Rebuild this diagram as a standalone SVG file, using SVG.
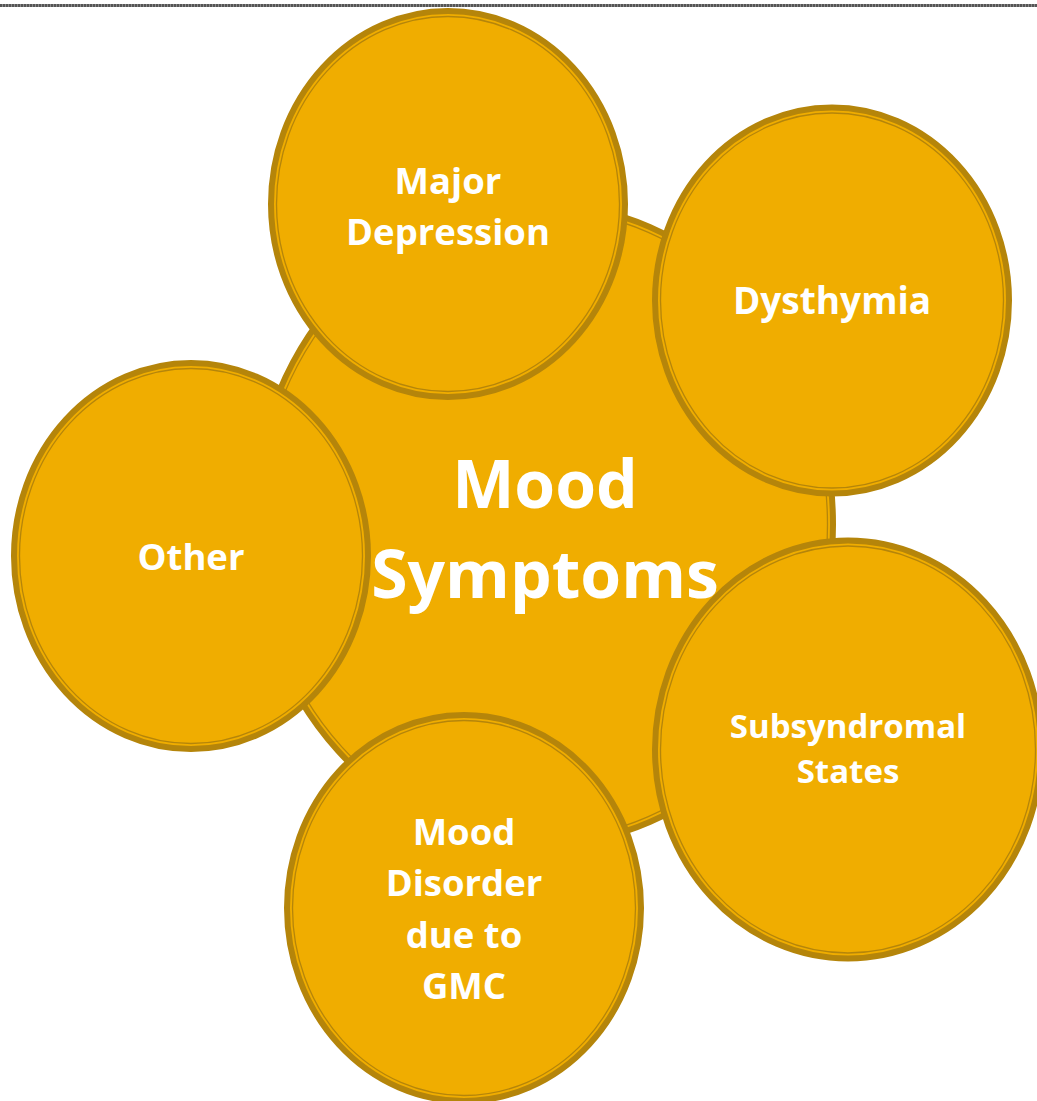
<svg xmlns="http://www.w3.org/2000/svg" width="1037" height="1101" viewBox="0 0 1037 1101">
  <style>
    .disc { fill: #F0AD00; stroke: #B5850A; stroke-width: 6; }
    .rim { fill: none; stroke: #B5850A; stroke-width: 1.3; }
    .lbl { font-family: "Open Sans", "Lato", "Liberation Sans", sans-serif; font-weight: 700; fill: #FFFFFF; text-anchor: middle; }
  </style>
  <rect x="0" y="0" width="1037" height="1101" fill="#FFFFFF"/>
  <!-- page rule along the top: a grey band with a fine speckle -->
  <line x1="0" y1="5.5" x2="1037" y2="5.5" stroke="#8A8A8A" stroke-width="3"/>
  <line x1="0" y1="5.5" x2="1037" y2="5.5" stroke="#555555" stroke-width="3" stroke-dasharray="2 1"/>

  <!-- central hub -->
  <g id="hub">
    <ellipse class="disc" cx="543" cy="524.5" rx="290" ry="320"/>
    <ellipse class="rim" cx="543" cy="524.5" rx="284.5" ry="314.5"/>
    <text class="lbl" x="545" y="508" font-size="66">Mood</text>
    <text class="lbl" x="545" y="598" font-size="66">Symptoms</text>
  </g>

  <g id="major-depression">
    <ellipse class="disc" cx="448" cy="204" rx="177" ry="193"/>
    <ellipse class="rim" cx="448" cy="204" rx="171.5" ry="187.5"/>
    <text class="lbl" x="448" y="194" font-size="36.5">Major</text>
    <text class="lbl" x="448" y="245" font-size="36.5">Depression</text>
  </g>

  <g id="dysthymia">
    <ellipse class="disc" cx="832" cy="300.5" rx="177" ry="193"/>
    <ellipse class="rim" cx="832" cy="300.5" rx="171.5" ry="187.5"/>
    <text class="lbl" x="832" y="314" font-size="37">Dysthymia</text>
  </g>

  <g id="subsyndromal-states">
    <ellipse class="disc" cx="848" cy="749.5" rx="193" ry="209"/>
    <ellipse class="rim" cx="848" cy="749.5" rx="187.5" ry="203.5"/>
    <text class="lbl" x="848" y="738" font-size="33">Subsyndromal</text>
    <text class="lbl" x="848" y="783" font-size="33">States</text>
  </g>

  <g id="mood-disorder-gmc">
    <ellipse class="disc" cx="464" cy="908" rx="177" ry="193"/>
    <ellipse class="rim" cx="464" cy="908" rx="171.5" ry="187.5"/>
    <text class="lbl" x="464" y="845" font-size="36.5">Mood</text>
    <text class="lbl" x="464" y="896" font-size="36.5">Disorder</text>
    <text class="lbl" x="464" y="948" font-size="36.5">due to</text>
    <text class="lbl" x="464" y="999" font-size="36.5">GMC</text>
  </g>

  <g id="other">
    <ellipse class="disc" cx="191" cy="556" rx="177" ry="193"/>
    <ellipse class="rim" cx="191" cy="556" rx="171.5" ry="187.5"/>
    <text class="lbl" x="191" y="570" font-size="36.5">Other</text>
  </g>

  <!-- the radial layout has no drawn connectors -->
  <g id="connectors"/>
</svg>
